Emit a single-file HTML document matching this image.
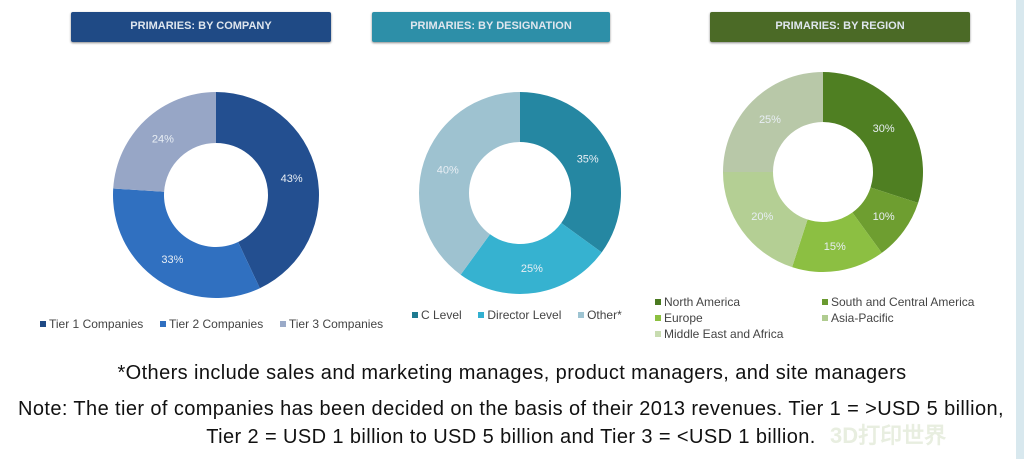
<!DOCTYPE html>
<html><head><style>
body{margin:0;width:1024px;height:459px;background:#fff;position:relative;overflow:hidden;font-family:"Liberation Sans",sans-serif}
.hd{position:absolute;top:12px;height:30px;color:#dfe6ee;font-weight:bold;font-size:11px;text-align:center;line-height:28px;border-radius:2px;box-shadow:0 1px 2px #888}
.lg{position:absolute;font-size:12px;color:#444;white-space:nowrap}
.lg i{display:inline-block;width:6px;height:6px;margin-right:3px;vertical-align:1px}
.t{position:absolute;left:0;width:1024px;text-align:center;color:#111;font-size:20px;letter-spacing:0.4px;white-space:nowrap}
</style></head><body>
<div style="position:absolute;right:0;top:0;width:8px;height:459px;background:#d8e8ee"></div>
<div class="hd" style="left:71px;width:260px;background:#1f4a85">PRIMARIES: BY COMPANY</div>
<div class="hd" style="left:372px;width:238px;background:#2d8fa8">PRIMARIES: BY DESIGNATION</div>
<div class="hd" style="left:710px;width:260px;background:#4b6a26">PRIMARIES: BY REGION</div>
<svg width="1024" height="459" style="position:absolute;left:0;top:0" id="s"></svg>
<div class="lg" style="left:40px;top:317px"><i style="background:#1f4a85"></i>Tier 1 Companies &nbsp;&nbsp;&nbsp; <i style="background:#2f6fc0"></i>Tier 2 Companies &nbsp;&nbsp;&nbsp; <i style="background:#9aaac8"></i>Tier 3 Companies</div>
<div class="lg" style="left:412px;top:308px"><i style="background:#1f7a90"></i>C Level &nbsp;&nbsp;&nbsp; <i style="background:#33b0d0"></i>Director Level &nbsp;&nbsp;&nbsp; <i style="background:#9ec4d2"></i>Other*</div>
<div class="lg" style="left:655px;top:294px;line-height:16px"><i style="background:#4a7a20"></i>North America<br><i style="background:#8cc040"></i>Europe<br><i style="background:#c8dcb0"></i>Middle East and Africa</div>
<div class="lg" style="left:822px;top:294px;line-height:16px"><i style="background:#6a9a30"></i>South and Central America<br><i style="background:#b0cc90"></i>Asia-Pacific</div>
<div class="t" style="top:362px">*Others include sales and marketing manages, product managers, and site managers</div>
<div class="t" style="top:398px;left:-1px">Note: The tier of companies has been decided on the basis of their 2013 revenues. Tier 1 = &gt;USD 5 billion,</div>
<div class="t" style="top:426px;left:-1px">Tier 2 = USD 1 billion to USD 5 billion and Tier 3 = &lt;USD 1 billion.</div>
<div style="position:absolute;left:830px;top:418px;color:#e8eee0;font-weight:bold;font-size:22px">3D打印世界</div>
<script>
const s=document.getElementById('s');
function donut(cx,cy,R,r,segs){let a=0;segs.forEach(([v,c,l])=>{const a0=a*2*Math.PI/100-Math.PI/2;a+=v;const a1=a*2*Math.PI/100-Math.PI/2;const lg=v>50?1:0;
const p=(ang,rad)=>[cx+rad*Math.cos(ang),cy+rad*Math.sin(ang)];
const [x0,y0]=p(a0,R),[x1,y1]=p(a1,R),[x2,y2]=p(a1,r),[x3,y3]=p(a0,r);
s.innerHTML+=`<path d="M${x0} ${y0}A${R} ${R} 0 ${lg} 1 ${x1} ${y1}L${x2} ${y2}A${r} ${r} 0 ${lg} 0 ${x3} ${y3}Z" fill="${c}"/>`;
const am=(a0+a1)/2,[tx,ty]=p(am,(R+r)/2);
s.innerHTML+=`<text x="${tx}" y="${ty+4}" font-size="11" fill="#e8eef4" text-anchor="middle" font-family="Liberation Sans">${l}</text>`;});}
donut(216,195,103,52,[[43,'#234f90','43%'],[33,'#3070c0','33%'],[24,'#97a6c6','24%']]);
donut(520,193,101,51,[[35,'#2587a2','35%'],[25,'#36b2d0','25%'],[40,'#9ec2d0','40%']]);
donut(823,172,100,50,[[30,'#4f7f22','30%'],[10,'#6e9e30','10%'],[15,'#8cbf42','15%'],[20,'#b4cf94','20%'],[25,'#b8c8a8','25%']]);
</script>
</body></html>
